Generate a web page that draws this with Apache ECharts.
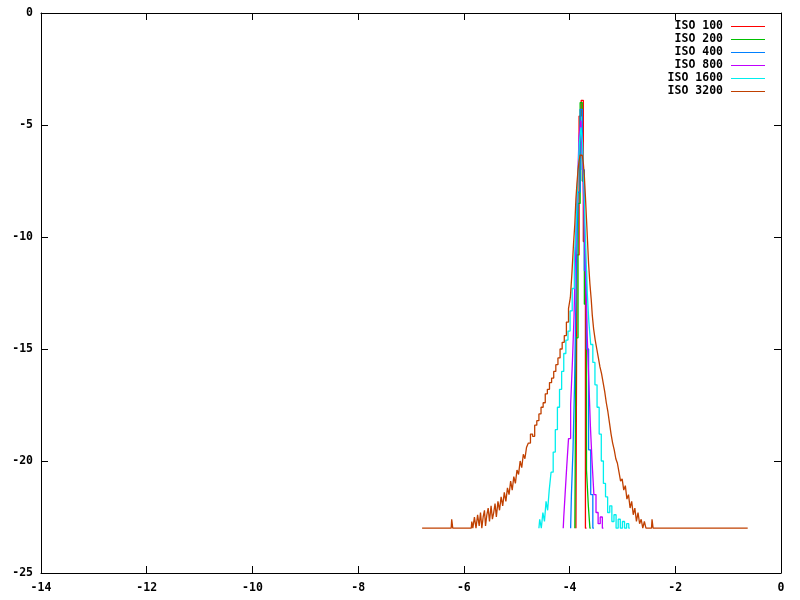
<!DOCTYPE html>
<html>
<head>
<meta charset="utf-8">
<script src="https://cdn.jsdelivr.net/npm/echarts@6/dist/echarts.min.js"></script>
<style>html,body{margin:0;padding:0;background:#fff}#c{width:800px;height:600px}</style>
</head>
<body>
<div id="c"></div>
<script>
const seriesNames = ['ISO 100', 'ISO 200', 'ISO 400', 'ISO 800', 'ISO 1600', 'ISO 3200'];
const seriesColors = ['#ff0000', '#00c000', '#0080ff', '#c000ff', '#00eeee', '#c04000'];
const xTicks = [-14, -12, -10, -8, -6, -4, -2, 0];
const yTicks = [-25, -20, -15, -10, -5, 0];

const iso100 = [[-3.88,-23],[-3.84,-10.8],[-3.80,-4.6],[-3.76,-3.9],[-3.72,-10.2],[-3.68,-23]];
const iso200 = [[-3.90,-23],[-3.86,-14.5],[-3.82,-8.5],[-3.78,-4.0],[-3.74,-7.5],[-3.70,-13.0],[-3.66,-20.4],[-3.63,-22.0],[-3.60,-23]];
const iso400 = [[-3.98,-23],[-3.95,-21.5],[-3.92,-19.5],[-3.89,-16.5],[-3.86,-12.0],[-3.82,-8.0],[-3.78,-4.3],[-3.74,-7.0],[-3.70,-11.5],[-3.66,-15.0],[-3.62,-19.5],[-3.58,-21.5],[-3.54,-23]];
const iso800 = [[-4.12,-23],[-4.10,-22.5],[-4.07,-21.5],[-4.04,-20.3],[-4.00,-19.0],[-3.96,-17.5],[-3.93,-15.5],[-3.90,-13.5],[-3.87,-10.5],[-3.84,-8.0],[-3.80,-5.5],[-3.77,-4.8],[-3.74,-6.5],[-3.71,-9.0],[-3.68,-12.0],[-3.65,-14.5],[-3.62,-16.5],[-3.59,-18.5],[-3.56,-20.0],[-3.52,-21.5],[-3.48,-22.3],[-3.44,-22.8],[-3.40,-22.5],[-3.36,-23]];
const iso1600 = [[-4.58,-23],[-4.55,-22.6],[-4.52,-23],[-4.49,-22.3],[-4.46,-22.7],[-4.43,-21.8],[-4.40,-22.2],[-4.37,-21.3],[-4.33,-20.5],[-4.29,-19.6],[-4.25,-18.6],[-4.21,-17.6],[-4.17,-16.8],[-4.13,-16.0],[-4.09,-15.2],[-4.05,-14.6],[-4.01,-14.2],[-3.97,-13.3],[-3.93,-12.3],[-3.89,-11.0],[-3.86,-9.5],[-3.83,-7.5],[-3.80,-5.8],[-3.77,-5.1],[-3.74,-5.8],[-3.71,-8.0],[-3.68,-10.5],[-3.65,-12.5],[-3.62,-13.8],[-3.58,-14.8],[-3.54,-15.6],[-3.50,-16.6],[-3.46,-17.6],[-3.42,-18.8],[-3.38,-20.0],[-3.34,-21.0],[-3.30,-21.6],[-3.26,-22.3],[-3.22,-22.0],[-3.18,-22.7],[-3.14,-22.4],[-3.10,-23],[-3.06,-22.6],[-3.02,-23],[-2.98,-22.7],[-2.94,-23],[-2.90,-22.8],[-2.86,-23]];
const iso3200 = [[-6.79,-23],[-6.24,-23],[-6.22,-22.6],[-6.20,-23],[-5.86,-23],[-5.84,-22.7],[-5.82,-23],[-5.78,-22.5],[-5.76,-23],[-5.72,-22.4],[-5.70,-22.9],[-5.67,-22.3],[-5.65,-23],[-5.62,-22.5],[-5.60,-22.2],[-5.58,-22.9],[-5.55,-22.4],[-5.53,-22.1],[-5.50,-22.7],[-5.47,-22.0],[-5.45,-22.6],[-5.42,-22.3],[-5.40,-21.9],[-5.37,-22.5],[-5.34,-21.8],[-5.31,-22.2],[-5.28,-21.6],[-5.25,-22.0],[-5.22,-21.4],[-5.19,-21.8],[-5.16,-21.2],[-5.13,-21.5],[-5.10,-20.9],[-5.07,-21.3],[-5.04,-20.7],[-5.01,-21.0],[-4.98,-20.4],[-4.95,-20.6],[-4.92,-20.0],[-4.89,-20.3],[-4.86,-19.7],[-4.83,-19.9],[-4.80,-19.4],[-4.76,-19.2],[-4.72,-18.8],[-4.68,-18.9],[-4.64,-18.4],[-4.60,-18.2],[-4.56,-17.9],[-4.52,-17.6],[-4.48,-17.4],[-4.44,-17.0],[-4.40,-16.8],[-4.36,-16.5],[-4.32,-16.3],[-4.28,-16.0],[-4.24,-15.7],[-4.20,-15.4],[-4.16,-15.0],[-4.12,-14.7],[-4.08,-14.4],[-4.04,-13.8],[-4.00,-13.2],[-3.97,-12.7],[-3.94,-11.6],[-3.91,-10.3],[-3.89,-9.4],[-3.87,-8.3],[-3.85,-7.6],[-3.83,-7.0],[-3.81,-6.6],[-3.79,-6.35],[-3.77,-6.35],[-3.75,-6.4],[-3.73,-6.7],[-3.71,-7.3],[-3.69,-8.2],[-3.67,-9.2],[-3.65,-10.2],[-3.63,-11.2],[-3.60,-12.1],[-3.58,-12.8],[-3.56,-13.5],[-3.53,-14.1],[-3.50,-14.6],[-3.47,-15.0],[-3.44,-15.4],[-3.41,-15.8],[-3.38,-16.1],[-3.35,-16.5],[-3.32,-16.9],[-3.29,-17.4],[-3.26,-17.8],[-3.23,-18.3],[-3.20,-18.8],[-3.17,-19.2],[-3.14,-19.5],[-3.11,-19.9],[-3.08,-20.1],[-3.05,-20.5],[-3.02,-20.9],[-2.99,-20.8],[-2.96,-21.3],[-2.93,-21.1],[-2.90,-21.7],[-2.87,-21.5],[-2.84,-22.1],[-2.81,-21.8],[-2.78,-22.4],[-2.75,-22.1],[-2.72,-22.7],[-2.69,-22.3],[-2.66,-22.8],[-2.63,-22.6],[-2.60,-23],[-2.57,-22.7],[-2.54,-23],[-2.45,-23],[-2.43,-22.6],[-2.41,-23],[-0.63,-23]];

const allData = [iso100, iso200, iso400, iso800, iso1600, iso3200];

const FONT = 'DejaVu Sans Mono';
const labelStyle = {fontFamily: FONT, fontWeight: 'bold', fontSize: 11.5, color: '#000'};

function axisBase(extra) {
  return Object.assign({
    type: 'value',
    axisLine: {show: true, onZero: false, lineStyle: {color: '#000', width: 1}},
    axisTick: {show: true, inside: true, length: 7, lineStyle: {color: '#000'}},
    splitLine: {show: false}
  }, extra);
}

const chart = echarts.init(document.getElementById('c'), null, {renderer: 'canvas'});
chart.setOption({
  animation: false,
  backgroundColor: '#fff',
  grid: {left: 41, right: 19, top: 13, bottom: 27},
  legend: {
    right: 35, top: 20, padding: 0, orient: 'vertical', align: 'right',
    itemWidth: 34, itemHeight: 1, itemGap: 0,
    textStyle: {fontFamily: FONT, fontWeight: 'bold', fontSize: 11.5, color: '#000', lineHeight: 13, padding: [0, 3, 0, 0]},
    formatter: function (n) { return n.padStart(8, ' '); },
    data: seriesNames.map(function (n, i) {
      return {name: n, icon: 'rect', itemStyle: {color: seriesColors[i], borderWidth: 0}};
    })
  },
  xAxis: [
    axisBase({position: 'bottom', min: xTicks[0], max: xTicks[xTicks.length - 1], interval: 2,
      axisLabel: Object.assign({margin: 9}, labelStyle)}),
    axisBase({position: 'top', min: xTicks[0], max: xTicks[xTicks.length - 1], interval: 2,
      axisLabel: {show: false}})
  ],
  yAxis: [
    axisBase({position: 'left', min: yTicks[0], max: yTicks[yTicks.length - 1], interval: 5,
      axisLabel: Object.assign({margin: 8}, labelStyle)}),
    axisBase({position: 'right', min: yTicks[0], max: yTicks[yTicks.length - 1], interval: 5,
      axisLabel: {show: false}})
  ],
  series: seriesNames.map(function (n, i) {
    return {
      name: n, type: 'line', step: 'middle', data: allData[i],
      xAxisIndex: 0, yAxisIndex: 0,
      symbol: 'none', showSymbol: false,
      lineStyle: {color: seriesColors[i], width: 1.3},
      itemStyle: {color: seriesColors[i]},
      emphasis: {disabled: true}
    };
  })
});
</script>
</body>
</html>
